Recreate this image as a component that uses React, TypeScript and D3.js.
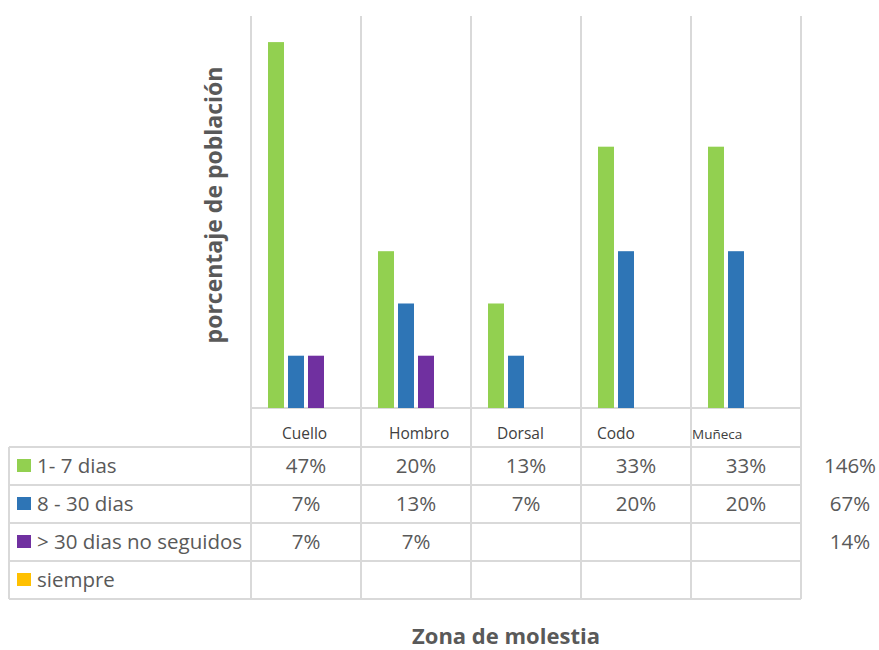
import React from "react";
import * as d3 from "d3";

const categories = ["Cuello", "Hombro", "Dorsal", "Codo", "Muñeca"];
const seriesNames = ["1- 7 dias", "8 - 30 dias", "> 30 dias no seguidos", "siempre"];
const series1 = [46.67, 20, 13.33, 33.33, 33.33];
const series2 = [6.67, 13.33, 6.67, 20, 20];
const series3: (number | null)[] = [6.67, 6.67, null, null, null];
const series4: (number | null)[] = [null, null, null, null, null];
const rowTotals = ["146%", "67%", "14%", ""];
const colors = ["#92D050", "#2E75B6", "#7030A0", "#FFC000"];

const allSeries = [series1, series2, series3, series4];

const W = 879;
const H = 650;
const plotLeft = 251;
const plotRight = 801;
const plotTop = 16;
const baseY = 408;
const tableTop = 447;
const rowH = 38;
const tableLeft = 9;
const grid = "#d9d9d9";
const textColor = "#595959";
const font = "'Open Sans', sans-serif";
const catLabelDx = [31, 28, 26, 16, 1];
const catLabelSize = [15.5, 15.5, 15.5, 15.5, 13.5];
const tableFont = 20.5;

export default function App() {
  const x = d3.scaleBand<string>().domain(categories).range([plotLeft, plotRight]);
  const x1 = d3.scaleBand<string>().domain(seriesNames).range([-38, 38]).paddingInner(0.2);
  const y = d3.scaleLinear().domain([0, 50]).range([baseY, plotTop]);

  const colEdges = categories.map((c) => x(c)!).concat([plotRight]);
  const rowEdges = d3.range(seriesNames.length + 1).map((i) => tableTop + i * rowH);

  return (
    <svg
      width={W}
      height={H}
      style={{ position: "absolute", left: 0, top: 0, background: "#fff" }}
      fontFamily={font}
    >
      {colEdges.map((cx, i) => (
        <line key={"v" + i} x1={cx} x2={cx} y1={plotTop} y2={rowEdges[rowEdges.length - 1]} stroke={grid} strokeWidth={2} />
      ))}
      <line x1={plotLeft} x2={plotRight} y1={baseY} y2={baseY} stroke={grid} strokeWidth={2} />
      {rowEdges.map((ry, i) => (
        <line key={"h" + i} x1={tableLeft} x2={plotRight} y1={ry} y2={ry} stroke={grid} strokeWidth={2} />
      ))}
      <line x1={tableLeft} x2={tableLeft} y1={tableTop} y2={rowEdges[rowEdges.length - 1]} stroke={grid} strokeWidth={2} />

      {allSeries.map((s, si) =>
        s.map((v, ci) =>
          v == null ? null : (
            <rect
              key={`b${si}-${ci}`}
              x={x(categories[ci])! + x.bandwidth() / 2 + x1(seriesNames[si])!}
              width={x1.bandwidth()}
              y={y(v)}
              height={baseY - y(v)}
              fill={colors[si]}
            />
          )
        )
      )}

      {categories.map((c, i) => (
        <text key={"c" + i} x={x(c)! + catLabelDx[i]} y={439} fontSize={catLabelSize[i]} fill="#404040">
          {c}
        </text>
      ))}

      {seriesNames.map((name, si) => {
        const ty = rowEdges[si] + rowH / 2 + 7;
        return (
          <g key={"r" + si}>
            <rect x={17} y={rowEdges[si] + 12} width={14} height={13} fill={colors[si]} />
            <text x={37} y={ty} fontSize={tableFont} fill={textColor}>
              {name}
            </text>
            {allSeries[si].map((v, ci) =>
              v == null ? null : (
                <text
                  key={"t" + ci}
                  x={x(categories[ci])! + x.bandwidth() / 2}
                  y={ty}
                  fontSize={tableFont}
                  fill={textColor}
                  textAnchor="middle"
                >
                  {Math.round(v) + "%"}
                </text>
              )
            )}
            <text x={850} y={ty} fontSize={tableFont} fill={textColor} textAnchor="middle">
              {rowTotals[si]}
            </text>
          </g>
        );
      })}

      <text
        transform={`translate(222,${205}) rotate(-90)`}
        textAnchor="middle"
        fontSize={23}
        fontWeight="bold"
        fill={textColor}
      >
        porcentaje de población
      </text>
      <text x={506} y={644} textAnchor="middle" fontSize={22} fontWeight="bold" fill={textColor}>
        Zona de molestia
      </text>
    </svg>
  );
}
